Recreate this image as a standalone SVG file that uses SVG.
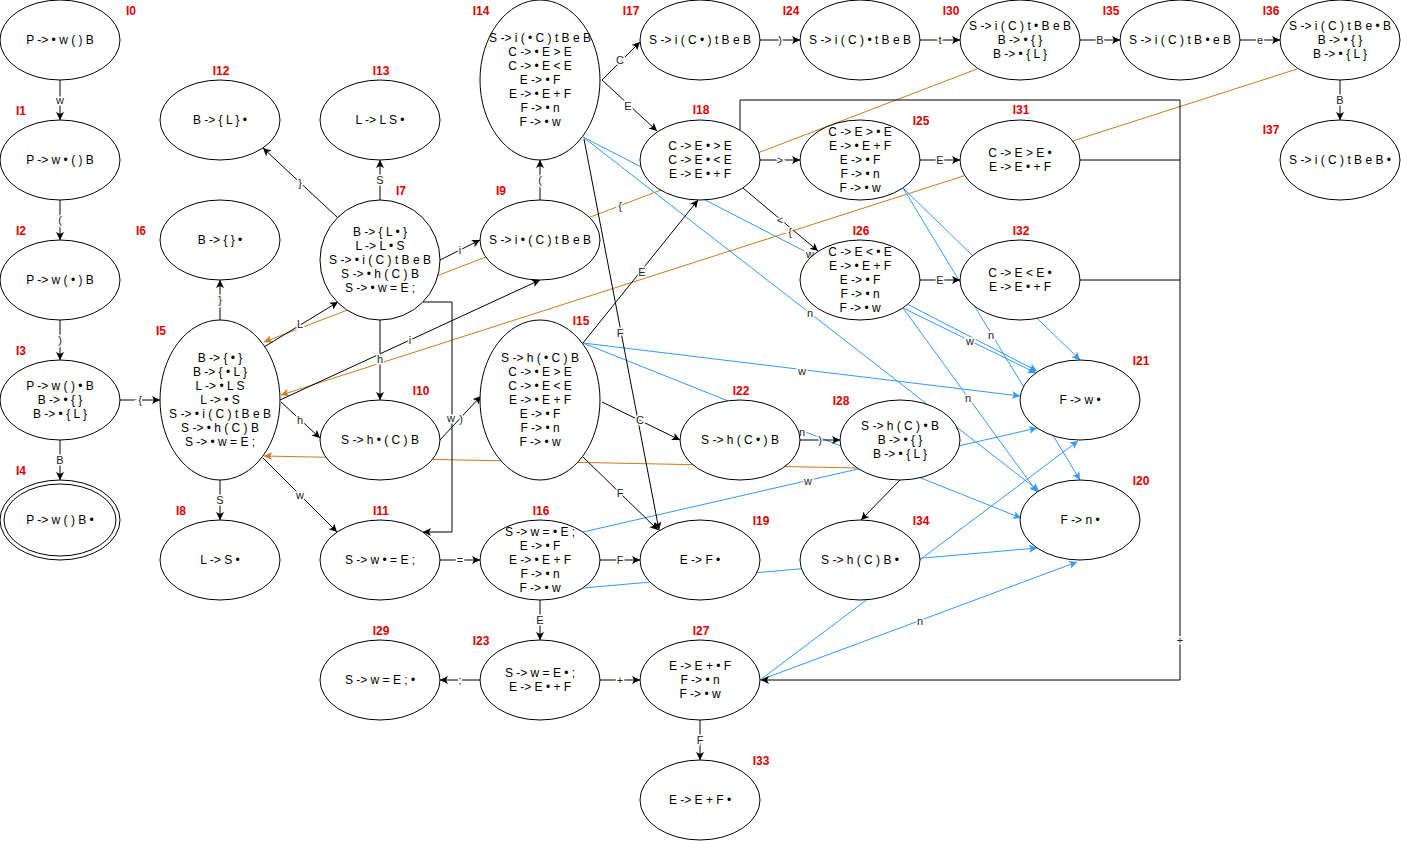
<svg xmlns="http://www.w3.org/2000/svg" width="1401" height="841" viewBox="0 0 1401 841">
<style>
.n ellipse{fill:#fff;stroke:#000;stroke-width:1}
text{font-family:"Liberation Sans",Arial,sans-serif;dominant-baseline:central;text-anchor:middle}
.t{font-size:12px;fill:#000}
.lbl{font-size:12px;font-weight:bold;fill:#e00000}
.e{fill:none;stroke:#000;stroke-width:1;marker-end:url(#ak)}
.p{fill:none;stroke:#000;stroke-width:1}
.b{fill:none;stroke:#3399ff;stroke-width:1;marker-end:url(#abl)}
.o{fill:none;stroke:#d2791c;stroke-width:1;marker-end:url(#aor)}
.el{font-size:11px;fill:#222;stroke:#fff;stroke-width:3;paint-order:stroke}
</style>
<defs>
<marker id="ak" viewBox="0 0 8 8" refX="8" refY="4" markerWidth="8" markerHeight="8" markerUnits="userSpaceOnUse" orient="auto"><path d="M0,0 L8,4 L0,8 L2,4 z" fill="#000"/></marker>
<marker id="abl" viewBox="0 0 8 8" refX="8" refY="4" markerWidth="8" markerHeight="8" markerUnits="userSpaceOnUse" orient="auto"><path d="M0,0 L8,4 L0,8 L2,4 z" fill="#3399ff"/></marker>
<marker id="aor" viewBox="0 0 8 8" refX="8" refY="4" markerWidth="8" markerHeight="8" markerUnits="userSpaceOnUse" orient="auto"><path d="M0,0 L8,4 L0,8 L2,4 z" fill="#d2791c"/></marker>
</defs>
<rect width="1401" height="841" fill="#fff"/>
<g id="connectors">
<!-- orange -->
<path class="o" d="M977,69 L264,342"/>
<path class="o" d="M1297,69 L281,395"/>
<path class="o" d="M857,468 L264,456"/>
<!-- blue -->
<path class="b" d="M583,137 L1037,371"/>
<path class="b" d="M583,137 L1039,491"/>
<path class="b" d="M583,343 L1020,396"/>
<path class="b" d="M583,343 L1021,518"/>
<path class="b" d="M583,532 L1037,428"/>
<path class="b" d="M583,588 L1037,548"/>
<path class="b" d="M903,188 L1080,360"/>
<path class="b" d="M903,188 L1080,480"/>
<path class="b" d="M903,308 L1036,373"/>
<path class="b" d="M903,308 L1037,492"/>
<path class="b" d="M760,680 L1078,441"/>
<path class="b" d="M760,680 L1077,562"/>
<!-- black -->
<path class="e" d="M60,80 L60,120"/>
<path class="e" d="M60,200 L60,240"/>
<path class="e" d="M60,320 L60,360"/>
<path class="e" d="M60,440 L60,480"/>
<path class="e" d="M120,400 L160,400"/>
<path class="e" d="M220,320 L220,280"/>
<path class="e" d="M220,480 L220,520"/>
<path class="e" d="M264,347 L338,302"/>
<path class="e" d="M338,218 L263,148"/>
<path class="e" d="M380,200 L380,160"/>
<path class="e" d="M440,260 L480,240"/>
<path class="e" d="M380,320 L380,400"/>
<path class="e" d="M423,302 L452,302 L452,532 L423,532"/>
<path class="e" d="M280,400 L540,280"/>
<path class="e" d="M281,402 L320,438"/>
<path class="e" d="M263,458 L337,532"/>
<path class="e" d="M540,200 L540,160"/>
<path class="e" d="M439,441 L481,396"/>
<path class="e" d="M440,560 L480,560"/>
<path class="e" d="M600,560 L640,560"/>
<path class="e" d="M540,600 L540,640"/>
<path class="e" d="M480,680 L440,680"/>
<path class="e" d="M600,680 L640,680"/>
<path class="e" d="M700,720 L700,760"/>
<path class="e" d="M602,80 L640,42"/>
<path class="e" d="M602,80 L657,131"/>
<path class="e" d="M584,139 L659,530"/>
<path class="e" d="M583,457 L658,530"/>
<path class="e" d="M583,343 L698,200"/>
<path class="e" d="M602,402 L680,440"/>
<path class="e" d="M760,40 L800,40"/>
<path class="e" d="M920,40 L960,40"/>
<path class="e" d="M1080,40 L1120,40"/>
<path class="e" d="M1240,40 L1280,40"/>
<path class="e" d="M1340,80 L1340,120"/>
<path class="e" d="M760,160 L800,160"/>
<path class="e" d="M920,160 L960,160"/>
<path class="e" d="M920,280 L960,280"/>
<path class="e" d="M743,188 L818,251"/>
<path class="e" d="M800,440 L840,440"/>
<path class="e" d="M900,480 L861,520"/>
<path class="e" d="M740,130 L740,100 L1180,100 L1180,680 L761,680"/>
<path class="p" d="M1080,160 L1180,160"/>
<path class="p" d="M1080,280 L1180,280"/>
<!-- labels -->
<text class="el" x="60" y="100">w</text>
<text class="el" x="60" y="220">(</text>
<text class="el" x="60" y="340">)</text>
<text class="el" x="60" y="460">B</text>
<text class="el" x="140" y="400">{</text>
<text class="el" x="220" y="300">}</text>
<text class="el" x="220" y="500">S</text>
<text class="el" x="300" y="324">L</text>
<text class="el" x="300" y="183">}</text>
<text class="el" x="380" y="180">S</text>
<text class="el" x="460" y="250">i</text>
<text class="el" x="380" y="359">h</text>
<text class="el" x="451" y="418">w</text>
<text class="el" x="461" y="419">)</text>
<text class="el" x="410" y="340">i</text>
<text class="el" x="300" y="420">h</text>
<text class="el" x="300" y="495">w</text>
<text class="el" x="540" y="180">(</text>
<text class="el" x="460" y="560">=</text>
<text class="el" x="620" y="560">F</text>
<text class="el" x="540" y="620">E</text>
<text class="el" x="460" y="680">;</text>
<text class="el" x="620" y="680">+</text>
<text class="el" x="700" y="740">F</text>
<text class="el" x="620" y="60">C</text>
<text class="el" x="628" y="106">E</text>
<text class="el" x="620" y="333">F</text>
<text class="el" x="620" y="493">F</text>
<text class="el" x="642" y="272">E</text>
<text class="el" x="640" y="420">C</text>
<text class="el" x="780" y="40">)</text>
<text class="el" x="940" y="40">t</text>
<text class="el" x="1100" y="40">B</text>
<text class="el" x="1260" y="40">e</text>
<text class="el" x="1340" y="100">B</text>
<text class="el" x="780" y="160">&gt;</text>
<text class="el" x="940" y="160">E</text>
<text class="el" x="940" y="280">E</text>
<text class="el" x="780" y="220">&lt;</text>
<text class="el" x="820" y="440">)</text>
<text class="el" x="1180" y="640">+</text>
<text class="el" x="620" y="206">{</text>
<text class="el" x="790" y="232">{</text>
<text class="el" x="810" y="254">w</text>
<text class="el" x="810" y="313">n</text>
<text class="el" x="802" y="371">w</text>
<text class="el" x="802" y="432">n</text>
<text class="el" x="808" y="481">w</text>
<text class="el" x="991" y="335">n</text>
<text class="el" x="970" y="341">w</text>
<text class="el" x="968" y="398">n</text>
<text class="el" x="920" y="621">n</text>
</g>
<g id="I0" class="n"><ellipse cx="60" cy="40" rx="60" ry="40"/><text class="t" x="60" y="40">P -&gt; • w ( ) B</text><text class="lbl" x="131" y="11">I0</text></g>
<g id="I1" class="n"><ellipse cx="60" cy="160" rx="60" ry="40"/><text class="t" x="60" y="160">P -&gt; w • ( ) B</text><text class="lbl" x="21" y="111">I1</text></g>
<g id="I2" class="n"><ellipse cx="60" cy="280" rx="60" ry="40"/><text class="t" x="60" y="280">P -&gt; w ( • ) B</text><text class="lbl" x="21" y="231">I2</text></g>
<g id="I3" class="n"><ellipse cx="60" cy="400" rx="60" ry="40"/><text class="t" x="60" y="386">P -&gt; w ( ) • B</text><text class="t" x="60" y="400">B -&gt; • { }</text><text class="t" x="60" y="414">B -&gt; • { L }</text><text class="lbl" x="21" y="351">I3</text></g>
<g id="I4" class="n"><ellipse cx="60" cy="520" rx="60" ry="40"/><ellipse cx="60" cy="520" rx="56" ry="36"/><text class="t" x="60" y="520">P -&gt; w ( ) B •</text><text class="lbl" x="21" y="471">I4</text></g>
<g id="I5" class="n"><ellipse cx="220" cy="400" rx="60" ry="80"/><text class="t" x="220" y="358">B -&gt; { • }</text><text class="t" x="220" y="372">B -&gt; { • L }</text><text class="t" x="220" y="386">L -&gt; • L S</text><text class="t" x="220" y="400">L -&gt; • S</text><text class="t" x="220" y="414">S -&gt; • i ( C ) t B e B</text><text class="t" x="220" y="428">S -&gt; • h ( C ) B</text><text class="t" x="220" y="442">S -&gt; • w = E ;</text><text class="lbl" x="161" y="331">I5</text></g>
<g id="I6" class="n"><ellipse cx="220" cy="240" rx="60" ry="40"/><text class="t" x="220" y="240">B -&gt; { } •</text><text class="lbl" x="141" y="231">I6</text></g>
<g id="I7" class="n"><ellipse cx="380" cy="260" rx="60" ry="60"/><text class="t" x="380" y="232">B -&gt; { L • }</text><text class="t" x="380" y="246">L -&gt; L • S</text><text class="t" x="380" y="260">S -&gt; • i ( C ) t B e B</text><text class="t" x="380" y="274">S -&gt; • h ( C ) B</text><text class="t" x="380" y="288">S -&gt; • w = E ;</text><text class="lbl" x="401" y="191">I7</text></g>
<g id="I8" class="n"><ellipse cx="220" cy="560" rx="60" ry="40"/><text class="t" x="220" y="560">L -&gt; S •</text><text class="lbl" x="181" y="511">I8</text></g>
<g id="I9" class="n"><ellipse cx="540" cy="240" rx="60" ry="40"/><text class="t" x="540" y="240">S -&gt; i • ( C ) t B e B</text><text class="lbl" x="501" y="191">I9</text></g>
<g id="I10" class="n"><ellipse cx="380" cy="440" rx="60" ry="40"/><text class="t" x="380" y="440">S -&gt; h • ( C ) B</text><text class="lbl" x="421" y="391">I10</text></g>
<g id="I11" class="n"><ellipse cx="380" cy="560" rx="60" ry="40"/><text class="t" x="380" y="560">S -&gt; w • = E ;</text><text class="lbl" x="381" y="511">I11</text></g>
<g id="I12" class="n"><ellipse cx="220" cy="120" rx="60" ry="40"/><text class="t" x="220" y="120">B -&gt; { L } •</text><text class="lbl" x="221" y="71">I12</text></g>
<g id="I13" class="n"><ellipse cx="380" cy="120" rx="60" ry="40"/><text class="t" x="380" y="120">L -&gt; L S •</text><text class="lbl" x="381" y="71">I13</text></g>
<g id="I14" class="n"><ellipse cx="540" cy="80" rx="60" ry="80"/><text class="t" x="540" y="38">S -&gt; i ( • C ) t B e B</text><text class="t" x="540" y="52">C -&gt; • E &gt; E</text><text class="t" x="540" y="66">C -&gt; • E &lt; E</text><text class="t" x="540" y="80">E -&gt; • F</text><text class="t" x="540" y="94">E -&gt; • E + F</text><text class="t" x="540" y="108">F -&gt; • n</text><text class="t" x="540" y="122">F -&gt; • w</text><text class="lbl" x="481" y="11">I14</text></g>
<g id="I15" class="n"><ellipse cx="540" cy="400" rx="60" ry="80"/><text class="t" x="540" y="358">S -&gt; h ( • C ) B</text><text class="t" x="540" y="372">C -&gt; • E &gt; E</text><text class="t" x="540" y="386">C -&gt; • E &lt; E</text><text class="t" x="540" y="400">E -&gt; • E + F</text><text class="t" x="540" y="414">E -&gt; • F</text><text class="t" x="540" y="428">F -&gt; • n</text><text class="t" x="540" y="442">F -&gt; • w</text><text class="lbl" x="581" y="321">I15</text></g>
<g id="I16" class="n"><ellipse cx="540" cy="560" rx="60" ry="40"/><text class="t" x="540" y="532">S -&gt; w = • E ;</text><text class="t" x="540" y="546">E -&gt; • F</text><text class="t" x="540" y="560">E -&gt; • E + F</text><text class="t" x="540" y="574">F -&gt; • n</text><text class="t" x="540" y="588">F -&gt; • w</text><text class="lbl" x="541" y="511">I16</text></g>
<g id="I17" class="n"><ellipse cx="700" cy="40" rx="60" ry="40"/><text class="t" x="700" y="40">S -&gt; i ( C • ) t B e B</text><text class="lbl" x="631" y="11">I17</text></g>
<g id="I18" class="n"><ellipse cx="700" cy="160" rx="60" ry="40"/><text class="t" x="700" y="146">C -&gt; E • &gt; E</text><text class="t" x="700" y="160">C -&gt; E • &lt; E</text><text class="t" x="700" y="174">E -&gt; E • + F</text><text class="lbl" x="701" y="110">I18</text></g>
<g id="I19" class="n"><ellipse cx="700" cy="560" rx="60" ry="40"/><text class="t" x="700" y="560">E -&gt; F •</text><text class="lbl" x="761" y="521">I19</text></g>
<g id="I20" class="n"><ellipse cx="1080" cy="520" rx="60" ry="40"/><text class="t" x="1080" y="520">F -&gt; n •</text><text class="lbl" x="1141" y="481">I20</text></g>
<g id="I21" class="n"><ellipse cx="1080" cy="400" rx="60" ry="40"/><text class="t" x="1080" y="400">F -&gt; w •</text><text class="lbl" x="1141" y="361">I21</text></g>
<g id="I22" class="n"><ellipse cx="740" cy="440" rx="60" ry="40"/><text class="t" x="740" y="440">S -&gt; h ( C • ) B</text><text class="lbl" x="741" y="391">I22</text></g>
<g id="I23" class="n"><ellipse cx="540" cy="680" rx="60" ry="40"/><text class="t" x="540" y="673">S -&gt; w = E • ;</text><text class="t" x="540" y="687">E -&gt; E • + F</text><text class="lbl" x="481" y="641">I23</text></g>
<g id="I24" class="n"><ellipse cx="860" cy="40" rx="60" ry="40"/><text class="t" x="860" y="40">S -&gt; i ( C ) • t B e B</text><text class="lbl" x="791" y="11">I24</text></g>
<g id="I25" class="n"><ellipse cx="860" cy="160" rx="60" ry="40"/><text class="t" x="860" y="132">C -&gt; E &gt; • E</text><text class="t" x="860" y="146">E -&gt; • E + F</text><text class="t" x="860" y="160">E -&gt; • F</text><text class="t" x="860" y="174">F -&gt; • n</text><text class="t" x="860" y="188">F -&gt; • w</text><text class="lbl" x="921" y="121">I25</text></g>
<g id="I26" class="n"><ellipse cx="860" cy="280" rx="60" ry="40"/><text class="t" x="860" y="252">C -&gt; E &lt; • E</text><text class="t" x="860" y="266">E -&gt; • E + F</text><text class="t" x="860" y="280">E -&gt; • F</text><text class="t" x="860" y="294">F -&gt; • n</text><text class="t" x="860" y="308">F -&gt; • w</text><text class="lbl" x="861" y="231">I26</text></g>
<g id="I27" class="n"><ellipse cx="700" cy="680" rx="60" ry="40"/><text class="t" x="700" y="666">E -&gt; E + • F</text><text class="t" x="700" y="680">F -&gt; • n</text><text class="t" x="700" y="694">F -&gt; • w</text><text class="lbl" x="701" y="631">I27</text></g>
<g id="I28" class="n"><ellipse cx="900" cy="440" rx="60" ry="40"/><text class="t" x="900" y="426">S -&gt; h ( C ) • B</text><text class="t" x="900" y="440">B -&gt; • { }</text><text class="t" x="900" y="454">B -&gt; • { L }</text><text class="lbl" x="841" y="401">I28</text></g>
<g id="I29" class="n"><ellipse cx="380" cy="680" rx="60" ry="40"/><text class="t" x="380" y="680">S -&gt; w = E ; •</text><text class="lbl" x="381" y="631">I29</text></g>
<g id="I30" class="n"><ellipse cx="1020" cy="40" rx="60" ry="40"/><text class="t" x="1020" y="26">S -&gt; i ( C ) t • B e B</text><text class="t" x="1020" y="40">B -&gt; • { }</text><text class="t" x="1020" y="54">B -&gt; • { L }</text><text class="lbl" x="951" y="11">I30</text></g>
<g id="I31" class="n"><ellipse cx="1020" cy="160" rx="60" ry="40"/><text class="t" x="1020" y="153">C -&gt; E &gt; E •</text><text class="t" x="1020" y="167">E -&gt; E • + F</text><text class="lbl" x="1021" y="110">I31</text></g>
<g id="I32" class="n"><ellipse cx="1020" cy="280" rx="60" ry="40"/><text class="t" x="1020" y="273">C -&gt; E &lt; E •</text><text class="t" x="1020" y="287">E -&gt; E • + F</text><text class="lbl" x="1021" y="231">I32</text></g>
<g id="I33" class="n"><ellipse cx="700" cy="800" rx="60" ry="40"/><text class="t" x="700" y="800">E -&gt; E + F •</text><text class="lbl" x="761" y="761">I33</text></g>
<g id="I34" class="n"><ellipse cx="860" cy="560" rx="60" ry="40"/><text class="t" x="860" y="560">S -&gt; h ( C ) B •</text><text class="lbl" x="921" y="521">I34</text></g>
<g id="I35" class="n"><ellipse cx="1180" cy="40" rx="60" ry="40"/><text class="t" x="1180" y="40">S -&gt; i ( C ) t B • e B</text><text class="lbl" x="1111" y="11">I35</text></g>
<g id="I36" class="n"><ellipse cx="1340" cy="40" rx="60" ry="40"/><text class="t" x="1340" y="26">S -&gt; i ( C ) t B e • B</text><text class="t" x="1340" y="40">B -&gt; • { }</text><text class="t" x="1340" y="54">B -&gt; • { L }</text><text class="lbl" x="1271" y="11">I36</text></g>
<g id="I37" class="n"><ellipse cx="1340" cy="160" rx="60" ry="40"/><text class="t" x="1340" y="160">S -&gt; i ( C ) t B e B •</text><text class="lbl" x="1271" y="130">I37</text></g>
</svg>
